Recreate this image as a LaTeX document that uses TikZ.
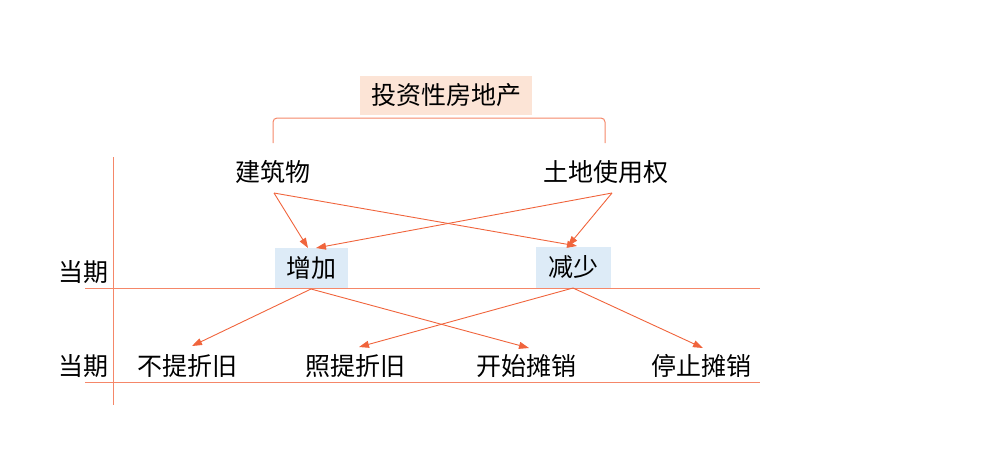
\documentclass[tikz,border=0pt]{standalone}
\usepackage{fontspec}
\newfontfamily\cjk{Noto Sans CJK SC}
\usetikzlibrary{arrows.meta}
\definecolor{arr}{RGB}{240,100,60}
\definecolor{ln}{RGB}{245,135,105}
\definecolor{peach}{RGB}{252,228,214}
\definecolor{lblue}{RGB}{221,235,247}
\begin{document}
\begin{tikzpicture}[x=1pt,y=-1pt,
  txt/.style={font=\cjk\fontsize{25}{27}\selectfont, inner sep=0pt, text=black},
  arrow/.style={draw=arr, line width=0.9pt, -{Triangle[length=10pt,width=7pt]}},
  rule/.style={draw=ln, line width=1pt}]
\useasboundingbox (0,0) rectangle (1000,451);
% title
\node[txt, fill=peach, minimum width=172pt, minimum height=39pt] (title) at (446,95) {投资性房地产};
% bracket
\coordinate (bl) at (273,143);
\coordinate (br) at (605,143);
\draw[rule, rounded corners=4pt] (bl) -- (273,118) -- (605,118) -- (br);
% top nodes
\node[txt] (jz) at (273,172) {建筑物};
\node[txt] (td) at (606,172) {土地使用权};
% middle boxes
\node[txt, fill=lblue, minimum width=73pt, minimum height=41pt] (zj) at (311,268) {增加};
\node[txt, fill=lblue, minimum width=75pt, minimum height=41pt] (js) at (573,267) {减少};
% axes
\coordinate (v1) at (113,157);
\coordinate (v2) at (113,405);
\draw[rule] (v1) -- (v2);
\coordinate (h1a) at (85,288);
\coordinate (h1b) at (760,288);
\draw[rule] (h1a) -- (h1b);
\coordinate (h2a) at (85,382);
\coordinate (h2b) at (760,382);
\draw[rule] (h2a) -- (h2b);
% left labels
\node[txt] (dq1) at (83,272) {当期};
\node[txt] (dq2) at (83,366) {当期};
% bottom labels
\node[txt] (b1) at (187,366) {不提折旧};
\node[txt] (b2) at (355,366) {照提折旧};
\node[txt] (b3) at (526,366) {开始摊销};
\node[txt] (b4) at (701,366) {停止摊销};
% arrow coordinates
\coordinate (jzs) at (274,193);
\coordinate (tds) at (612,193);
\coordinate (zjt1) at (308,248);
\coordinate (zjt2) at (316,248);
\coordinate (jst1) at (568,246);
\coordinate (jst2) at (577,246);
\coordinate (zjb) at (311,289);
\coordinate (jsb) at (573,288);
\coordinate (b1t) at (192,346);
\coordinate (b2t) at (359,347);
\coordinate (b3t) at (529,348);
\coordinate (b4t) at (703,348);
\draw[arrow] (jzs) -- (zjt1);
\draw[arrow] (jzs) -- (jst2);
\draw[arrow] (tds) -- (zjt2);
\draw[arrow] (tds) -- (jst1);
\draw[arrow] (zjb) -- (b1t);
\draw[arrow] (zjb) -- (b3t);
\draw[arrow] (jsb) -- (b2t);
\draw[arrow] (jsb) -- (b4t);
\end{tikzpicture}
\end{document}
